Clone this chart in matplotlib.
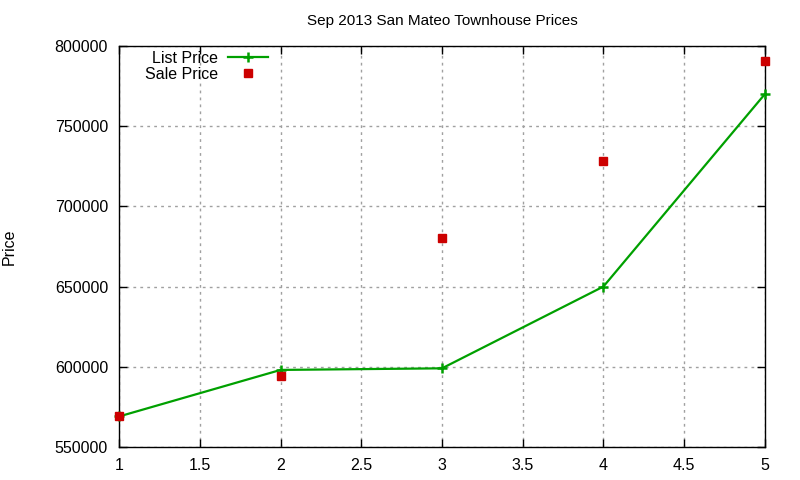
import matplotlib
matplotlib.use("Agg")
import matplotlib.pyplot as plt

# data
months = [1, 2, 3, 4, 5]
list_price = [569000, 598000, 599000, 650000, 770000]
sale_price = [569500, 594500, 680000, 728500, 790500]

plt.rcParams['font.family'] = ['Liberation Sans', 'DejaVu Sans']

fig = plt.figure(figsize=(8, 4.8), dpi=100)
ax = fig.add_axes([0.149, 0.069, 0.807, 0.835])

ax.plot(months, list_price, color='#00a000', lw=1.6, marker='+', ms=7, mew=1.8,
        label='List Price', clip_on=False, zorder=3)
ax.plot(months, sale_price, ls='none', marker='s', ms=6, color='#cc0000',
        label='Sale Price', clip_on=False, zorder=4)

ax.set_xlim(1, 5)
ax.set_ylim(550000, 800000)
ax.set_xticks([1, 1.5, 2, 2.5, 3, 3.5, 4, 4.5, 5])
ax.set_xticklabels(['1', '1.5', '2', '2.5', '3', '3.5', '4', '4.5', '5'])
ax.set_yticks(range(550000, 800001, 50000))
ax.set_yticklabels([str(v) for v in range(550000, 800001, 50000)])

ax.tick_params(direction='in', top=True, right=True, length=6, labelsize=11.5,
               width=1)
ax.tick_params(axis='x', pad=8)
ax.tick_params(axis='y', pad=8)
ax.grid(True, color='#a0a0a0', ls=(0, (2, 3)), lw=1)
for s in ax.spines.values():
    s.set_linewidth(1)

ax.set_title('Sep 2013 San Mateo Townhouse Prices', fontsize=11, pad=15)
ax.set_ylabel('Price', fontsize=11.5, labelpad=27)

ax.legend(loc='upper left', bbox_to_anchor=(0.025, 1.012), frameon=False,
          markerfirst=False, fontsize=11.5, handlelength=2.5,
          borderaxespad=0.2, labelspacing=0.05, handletextpad=0.6)

fig.savefig('out.png', dpi=100)
